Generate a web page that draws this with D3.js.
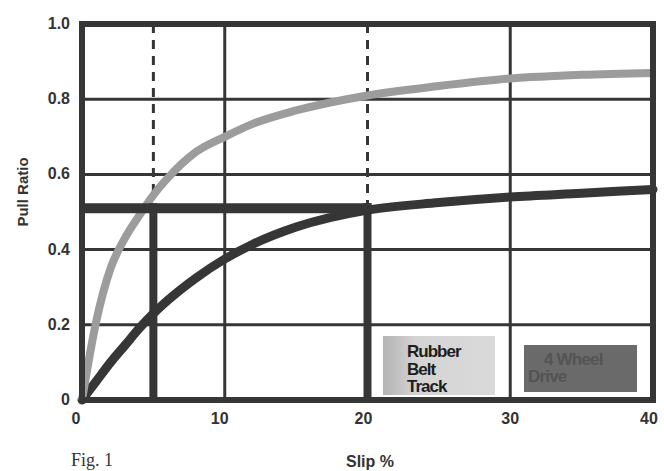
<!DOCTYPE html>
<html><head><meta charset="utf-8">
<script src="https://cdn.jsdelivr.net/npm/d3@7"></script>
<style>body{margin:0;background:#fff}svg{display:block}</style>
</head><body>
<script>
const slip = [0,1,2,3,4,5,6,8,10,12,15,20,25,30,35,40];
const rubberBelt = [0,0.21,0.35,0.43,0.49,0.545,0.59,0.66,0.70,0.735,0.77,0.81,0.835,0.855,0.865,0.87];
const fourWheel = [0,0.05,0.1,0.145,0.19,0.23,0.265,0.325,0.375,0.415,0.46,0.505,0.525,0.54,0.55,0.56];
const xTicks = [0,10,20,30,40];
const gridX = [10,30];
const yTicks = [0,0.2,0.4,0.6,0.8,1.0];
const yTickLabels = ["0","0.2","0.4","0.6","0.8","1.0"];
const refPull = 0.51;
const refSlips = [5,20];
const dashTops = [0.555,0.51];
const legendRubber = ["Rubber","Belt","Track"];
const legendWheel = ["4 Wheel","Drive"];

const W=664,H=471;
const svg=d3.select("body").append("svg").attr("width",W).attr("height",H);
const x=d3.scaleLinear().domain([0,40]).range([82,653]);
const y=d3.scaleLinear().domain([0,1]).range([400,24]);
const ink="#363636";
const font="Liberation Sans, Arial, sans-serif";

// grid
svg.selectAll(".gx").data(gridX).enter().append("line")
  .attr("x1",d=>x(d)).attr("x2",d=>x(d)).attr("y1",y(0)).attr("y2",y(1))
  .attr("stroke",ink).attr("stroke-width",3);
svg.selectAll(".gy").data(yTicks.slice(1,-1)).enter().append("line")
  .attr("x1",x(0)).attr("x2",x(40)).attr("y1",d=>y(d)).attr("y2",d=>y(d))
  .attr("stroke",ink).attr("stroke-width",3);

// legend boxes
const defs=svg.append("defs");
const g1=defs.append("linearGradient").attr("id","rb").attr("x1","0").attr("x2","1");
g1.append("stop").attr("offset","0").attr("stop-color","#b4b4b4");
g1.append("stop").attr("offset","0.3").attr("stop-color","#d4d4d4");
g1.append("stop").attr("offset","1").attr("stop-color","#dadada");
svg.append("rect").attr("x",383).attr("y",336).attr("width",112).attr("height",59).attr("fill","url(#rb)");
svg.append("text").attr("y",357).attr("font-family",font)
  .attr("font-weight","bold").attr("font-size",17).attr("fill","#1e1e1e").attr("letter-spacing",-1)
  .selectAll("tspan").data(legendRubber).enter().append("tspan")
  .attr("x",407).attr("dy",(d,i)=>i?17.5:0).text(d=>d);
svg.append("rect").attr("x",524).attr("y",345).attr("width",113).attr("height",47).attr("fill","#6a6a6a");
svg.append("text").attr("y",365).attr("font-family",font)
  .attr("font-weight","bold").attr("font-size",17).attr("fill","#545454").attr("letter-spacing",-0.8)
  .selectAll("tspan").data(legendWheel).enter().append("tspan")
  .attr("x",(d,i)=>i?528:544).attr("dy",(d,i)=>i?17:0).text(d=>d);

// dashed reference
svg.selectAll(".dash").data(refSlips).enter().append("line")
  .attr("x1",d=>x(d)).attr("x2",d=>x(d)).attr("y1",y(1)).attr("y2",(d,i)=>y(dashTops[i]))
  .attr("stroke",ink).attr("stroke-width",3).attr("stroke-dasharray","9,7");

// curves
const pts=(vals)=>slip.map((s,i)=>[s,vals[i]]);
const line=d3.line().x(d=>x(d[0])).y(d=>y(d[1])).curve(d3.curveMonotoneX);
svg.append("path").attr("d",line(pts(fourWheel))).attr("fill","none")
  .attr("stroke",ink).attr("stroke-width",9).attr("stroke-linecap","round");
svg.append("path").attr("d",line(pts(rubberBelt))).attr("fill","none")
  .attr("stroke","#9c9c9c").attr("stroke-width",8);

// thick reference lines
svg.append("line").attr("x1",x(0)).attr("x2",x(20)+4).attr("y1",y(refPull)).attr("y2",y(refPull))
  .attr("stroke",ink).attr("stroke-width",10);
svg.selectAll(".vref").data(refSlips).enter().append("line")
  .attr("x1",d=>x(d)).attr("x2",d=>x(d)).attr("y1",y(0)).attr("y2",y(refPull)-5)
  .attr("stroke",ink).attr("stroke-width",8);

// border
svg.append("rect").attr("x",x(0)).attr("y",y(1)).attr("width",x(40)-x(0)).attr("height",y(0)-y(1))
  .attr("fill","none").attr("stroke",ink).attr("stroke-width",6);

// y tick labels
svg.selectAll(".yl").data(yTicks).enter().append("text")
  .attr("x",70).attr("y",d=>y(d)+5).attr("text-anchor","end")
  .attr("font-family",font).attr("font-weight","bold").attr("font-size",16).attr("fill","#333")
  .text((d,i)=>yTickLabels[i]);
// x tick labels
const xLabelPos=[x(0)-6,x(10)-5,x(20)-4,x(30),x(40)-4];
svg.selectAll(".xl").data(xTicks).enter().append("text")
  .attr("x",(d,i)=>xLabelPos[i]).attr("y",424).attr("text-anchor","middle")
  .attr("font-family",font).attr("font-weight","bold").attr("font-size",16).attr("fill","#333")
  .text(d=>d);
// axis titles
svg.append("text").attr("x",370).attr("y",467).attr("text-anchor","middle")
  .attr("font-family",font).attr("font-weight","bold").attr("font-size",16).attr("fill","#333").text("Slip %");
svg.append("text").attr("transform","translate(28,192) rotate(-90)").attr("text-anchor","middle")
  .attr("font-family",font).attr("font-weight","bold").attr("font-size",15).attr("fill","#333").text("Pull Ratio");
svg.append("text").attr("x",71).attr("y",466)
  .attr("font-family","Liberation Serif, Times New Roman, serif").attr("font-size",18).attr("fill","#333").text("Fig. 1");
</script>
</body></html>
